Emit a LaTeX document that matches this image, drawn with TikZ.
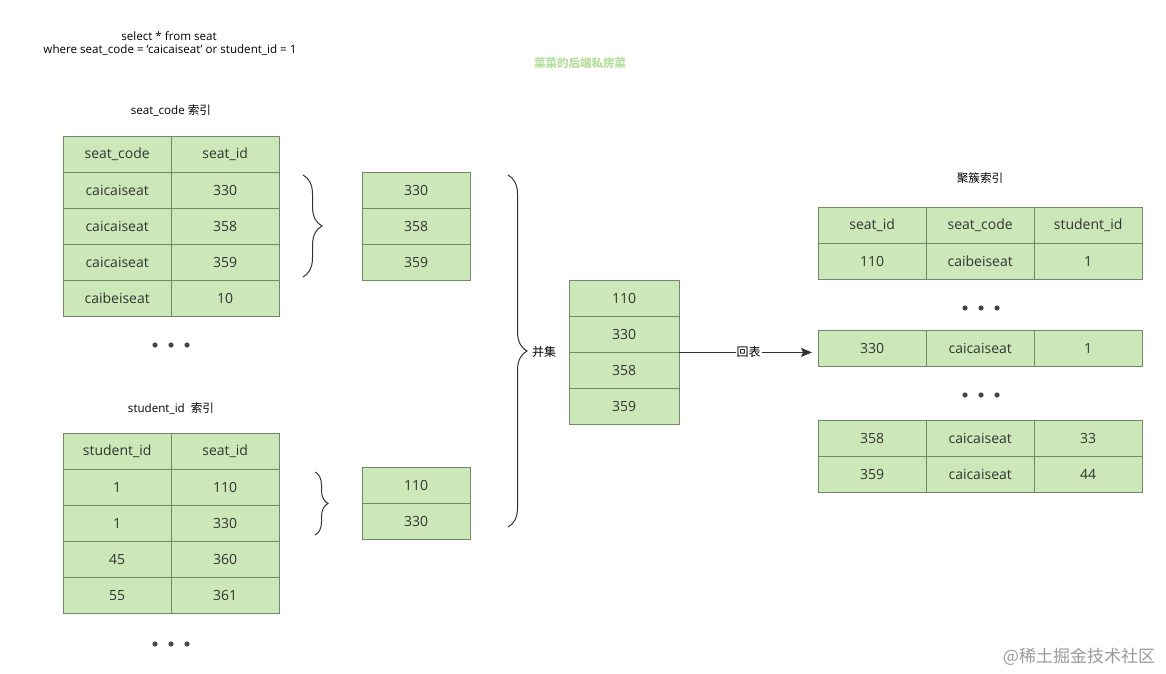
\documentclass[tikz,border=0pt]{standalone}
\usepackage{fontspec}
\setmainfont{Open Sans}
\newfontfamily\cjk{Noto Sans CJK SC}
\usepackage{tikz}
\usetikzlibrary{arrows.meta}
\usetikzlibrary{decorations.pathreplacing}
\definecolor{cellfill}{HTML}{CDE8B8}
\definecolor{cellline}{HTML}{6F8A66}
\definecolor{inkgray}{HTML}{333333}
\definecolor{brandgreen}{HTML}{B5DF9C}
\definecolor{markgray}{HTML}{9A9A9A}

\begin{document}
\begin{tikzpicture}[x=1pt,y=-1pt,
    cell/.style={draw=cellline, fill=cellfill, minimum width=108pt, minimum height=36pt,
                 inner sep=0pt, anchor=north west, text=inkgray, font=\fontsize{14}{16}\selectfont},
    title/.style={text=black, font=\fontsize{11.6}{13}\selectfont},
    curly/.style={decorate, decoration={brace, amplitude=#1}, draw=inkgray, line width=1pt}]
            \useasboundingbox (0,0) rectangle (1166,673);
            % query and captions
            \node[title] (q1) at (169,36) {select * from seat};
            \node[title] (q2) at (170,50) {where seat\_code = `caicaiseat' or student\_id = 1};
            \node[text=brandgreen, font=\fontsize{11.5}{13}\selectfont] (brand) at (580,63) {\cjk\bfseries 菜菜的后端私房菜};
            \node[title] (lsc) at (171,111) {seat\_code {\cjk 索引}};
            \node[title] (lsid) at (171,409) {student\_id\ \ {\cjk 索引}};
            \node[title] (lcl) at (980,178) {\cjk 聚簇索引};
            % seat_code index
            \foreach \a/\b [count=\r from 0] in {seat\_code/seat\_id, caicaiseat/330, caicaiseat/358, caicaiseat/359, caibeiseat/10}{
                \node[cell] (sc-\r-a) at (63,{136+36*\r}) {\a};
                \node[cell] (sc-\r-b) at (171,{136+36*\r}) {\b};}
            % student_id index
            \foreach \a/\b [count=\r from 0] in {student\_id/seat\_id, 1/110, 1/330, 45/360, 55/361}{
                \node[cell] (si-\r-a) at (63,{433+36*\r}) {\a};
                \node[cell] (si-\r-b) at (171,{433+36*\r}) {\b};}
            % picked ids
            \foreach \v [count=\r from 0] in {330,358,359}{\node[cell] (pa-\r) at (362,{172+36*\r}) {\v};}
            \foreach \v [count=\r from 0] in {110,330}{\node[cell] (pb-\r) at (362,{467+36*\r}) {\v};}
            \foreach \v [count=\r from 0] in {110,330,358,359}{\node[cell, minimum width=110pt] (un-\r) at (569,{280+36*\r}) {\v};}
            % clustered index
            \foreach \a/\b/\c [count=\r from 0] in {seat\_id/seat\_code/student\_id, 110/caibeiseat/1}{
                \node[cell] (cl-\r-a) at (818,{207+36*\r}) {\a};
                \node[cell] (cl-\r-b) at (926,{207+36*\r}) {\b};
                \node[cell] (cl-\r-c) at (1034,{207+36*\r}) {\c};}
            \node[cell] (cm-a) at (818,330) {330};
            \node[cell] (cm-b) at (926,330) {caicaiseat};
            \node[cell] (cm-c) at (1034,330) {1};
            \foreach \a/\b/\c [count=\r from 0] in {358/caicaiseat/33, 359/caicaiseat/44}{
                \node[cell] (cn-\r-a) at (818,{420+36*\r}) {\a};
                \node[cell] (cn-\r-b) at (926,{420+36*\r}) {\b};
                \node[cell] (cn-\r-c) at (1034,{420+36*\r}) {\c};}
            % dots
            \foreach \y in {345,644}{\foreach \x in {155,171,187}{\fill[inkgray!90] (\x,\y) circle (2.6pt);}}
            \foreach \y in {308,395}{\foreach \x in {965,981,997}{\fill[inkgray!90] (\x,\y) circle (2.6pt);}}
            % braces
            \coordinate (ba-top) at (303,175); \coordinate (ba-bot) at (303,277);
            \coordinate (bb-top) at (315,472); \coordinate (bb-bot) at (315,535);
            \coordinate (bu-top) at (508,175); \coordinate (bu-bot) at (508,527);
            \draw[curly=19pt] (ba-top) -- (ba-bot);
            \draw[curly=13pt] (bb-top) -- (bb-bot);
            \draw[curly=19pt] (bu-top) -- (bu-bot);
            \node[title, font=\fontsize{12}{14}\selectfont] (lun) at (544,352) {\cjk 并集};
            % back to table
            \draw[-{Stealth[length=11pt,width=9pt,inset=2pt]}, draw=inkgray, fill=inkgray, line width=1.1pt, shorten >=6pt]
                (un-1.south east) -- (un-1.south east -| cm-a.west)
                node[midway, fill=white, inner sep=1pt, title, font=\fontsize{12}{14}\selectfont] (lhb) {\cjk 回表};
            % watermark
            \node[text=markgray, font=\fontsize{17}{19}\selectfont] (wm) at (1079,657) {\cjk @稀土掘金技术社区};
\end{tikzpicture}
\end{document}
